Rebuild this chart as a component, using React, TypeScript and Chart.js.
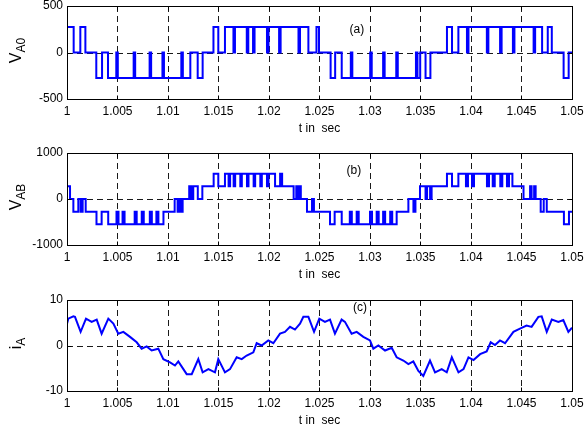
import React, { useEffect, useRef } from "react";
import { Chart, registerables } from "chart.js";

Chart.register(...registerables);

const FONT = "'Liberation Sans', Arial, Helvetica, sans-serif";

type Pair = [number, number];

// x axis (seconds)
const xTicks = [1, 1.005, 1.01, 1.015, 1.02, 1.025, 1.03, 1.035, 1.04, 1.045, 1.05];
const xTickLabels = ["1", "1.005", "1.01", "1.015", "1.02", "1.025", "1.03", "1.035", "1.04", "1.045", "1.05"];
const xTitle = "t in  sec";
const tStart = 1.0;
const tEnd = 1.05;

// (a) pole voltage V_A0: [time offset in ms, volts held from that time]
const vA0Steps: Pair[] = [
  [0, 275], [0.66, 0], [1.32, 275], [1.82, 0], [2.9, -275], [3.47, 0], [4.06, -275],
  [4.88, 0], [5.03, -275], [6.6, 0], [6.75, -275], [8.18, 0], [8.33, -275],
  [9.45, 0], [9.6, -275], [11.32, 0], [11.47, -275], [12.21, 0], [12.94, -275],
  [13.43, 0], [14.5, 275], [14.98, 0], [15.64, 275], [16.48, 0], [16.63, 275],
  [17.8, 0], [17.95, 275], [18.42, 0], [18.57, 275], [19.8, 0], [19.95, 275],
  [21.0, 0], [21.15, 275], [22.92, 0], [23.07, 275], [23.9, 0], [24.7, 275],
  [24.95, 0], [26.1, -275], [26.55, 0], [27.2, -275], [28.1, 0], [28.25, -275],
  [30.02, 0], [30.17, -275], [31.3, 0], [31.45, -275], [32.6, 0], [32.75, -275],
  [34.55, 0], [34.7, -275], [34.97, 0], [35.5, -275], [35.98, 0], [37.62, 275],
  [38.12, 0], [38.75, 275], [39.6, 0], [39.75, 275], [41.57, 0], [41.72, 275],
  [42.88, 0], [43.03, 275], [44.15, 0], [44.3, 275], [46.2, 0], [46.35, 275],
  [47.04, 0], [47.6, 275], [48.0, 0], [49.17, -275], [49.67, 0],
];

// (b) line voltage V_AB: [time offset in ms, volts held from that time]
const vABSteps: Pair[] = [
  [0, 275], [0.3, 0], [0.63, -275], [1.12, 0], [1.35, -275], [1.55, 0], [1.85, -275],
  [2.92, -550], [3.43, -275], [4.08, -550],
  [4.9, -275], [5.1, -550], [5.5, -275], [5.7, -550], [6.7, -275], [6.9, -550],
  [7.4, -275], [7.6, -550], [8.2, -275], [8.4, -550], [8.85, -275], [9.05, -550],
  [9.55, -275], [10.66, 0], [10.95, -275], [11.1, 0], [11.3, -275], [11.45, 0],
  [12.1, 275], [12.3, 0], [12.5, 275], [12.95, 0], [13.4, 275],
  [14.52, 550], [14.98, 275], [15.64, 550],
  [16.0, 275], [16.15, 550], [16.5, 275], [16.65, 550], [17.16, 275], [17.31, 550],
  [17.82, 275], [17.97, 550], [18.48, 275], [18.63, 550], [19.14, 275], [19.29, 550],
  [19.8, 275], [19.95, 550], [20.6, 275], [21.1, 550], [21.3, 275],
  [22.44, 0], [22.7, 275], [22.85, 0], [23.0, 275], [23.15, 0], [23.76, -275],
  [24.26, 0], [24.45, -275], [26.04, -550], [26.5, -275], [27.2, -550],
  [28.0, -275], [28.2, -550], [28.68, -275], [28.88, -550], [30.0, -275], [30.2, -550],
  [30.66, -275], [30.86, -550], [31.3, -275], [31.5, -550], [32.0, -275], [32.2, -550],
  [32.64, -275], [33.8, 0], [34.3, -275], [34.5, 0], [34.95, 275], [35.5, 0],
  [35.65, 275], [35.95, 0], [36.1, 275], [37.62, 550], [38.12, 275], [38.75, 550],
  [39.5, 275], [39.7, 550], [40.1, 275], [40.3, 550], [41.58, 275], [41.78, 550],
  [42.15, 275], [42.35, 550], [42.9, 275], [43.1, 550], [43.56, 275], [43.76, 550],
  [44.1, 275], [45.2, 0], [45.85, 275], [46.0, 0], [46.25, 275], [46.4, 0],
  [46.9, -275], [47.2, 0], [47.5, -275], [49.2, -550], [49.7, -275],
];

// (c) phase current i_A: [time offset in ms, amperes]
const iASamples: Pair[] = [
  [0, 4.8], [0.13, 5.9], [0.63, 6.4], [0.79, 6.3], [1.35, 3.0], [1.88, 5.9], [2.44, 5.2],
  [2.94, 5.7], [3.43, 2.6], [4.09, 5.9], [4.59, 4.8], [5.08, 2.6], [5.58, 3.0], [6.24, 1.9],
  [6.9, 0.7], [7.39, -0.7], [7.89, -0.2], [8.38, -1.1], [9.04, -0.7], [9.54, -3.0],
  [10.2, -3.7], [10.69, -4.4], [11.02, -3.5], [11.85, -6.3], [12.35, -6.3], [13.0, -3.0],
  [13.43, -5.9], [14.0, -5.2], [14.65, -5.9], [14.98, -3.0], [15.64, -5.9], [16.14, -5.2],
  [16.8, -2.6], [17.3, -3.0], [17.79, -2.2], [18.45, -1.5], [18.78, 0.5], [19.27, 0],
  [19.93, 1.1], [20.43, 0.5], [21.09, 2.6], [21.58, 3.0], [22.08, 4.1], [22.57, 3.5],
  [23.07, 4.8], [23.4, 6.3], [23.9, 6.3], [24.46, 3.0], [24.98, 5.9], [25.54, 5.2],
  [26.04, 5.7], [26.53, 2.6], [27.19, 5.7], [27.52, 5.2], [28.18, 2.6], [28.68, 3.0],
  [29.34, 1.9], [30.0, 1.1], [30.33, -0.7], [30.83, 0], [31.49, -1.1], [32.15, -0.5],
  [32.64, -2.6], [33.3, -3.3], [33.8, -4.1], [34.29, -3.5], [34.79, -5.6], [35.28, -6.7],
  [35.94, -3.3], [36.44, -5.9], [37.1, -5.2], [37.6, -5.9], [38.1, -2.6], [38.76, -5.9],
  [39.26, -5.2], [39.75, -2.6], [40.25, -3.2], [40.9, -1.9], [41.55, -1.3], [41.95, 0.7],
  [42.38, 0.1], [42.87, 1.1], [43.37, 0.5], [44.2, 3.0], [44.85, 3.7], [45.5, 4.4],
  [46.0, 4.1], [46.67, 6.3], [47.0, 6.4], [47.5, 3.0], [48.0, 5.7], [48.65, 5.2],
  [49.14, 5.6], [49.64, 3.0], [50.0, 3.9],
];

// y axes
const vA0Ticks = [-500, 0, 500];
const vA0TickLabels = ["-500", "0", "500"];
const vABTicks = [-1000, 0, 1000];
const vABTickLabels = ["-1000", "0", "1000"];
const iATicks = [-10, 0, 10];
const iATickLabels = ["-10", "0", "10"];

const toSec = (ms: number) => tStart + ms / 1000;

function stepPoints(steps: Pair[]) {
  const pts: { x: number; y: number }[] = [];
  steps.forEach(([t, v], i) => {
    const tNext = i + 1 < steps.length ? toSec(steps[i + 1][0]) : tEnd;
    pts.push({ x: toSec(t), y: v });
    pts.push({ x: tNext, y: v });
  });
  return pts;
}

function samplePoints(samples: Pair[]) {
  return samples.map(([t, v]) => ({ x: toSec(t), y: v }));
}

interface PanelSpec {
  id: string;
  canvasTop: number;
  canvasHeight: number;
  padTop: number;
  xAxisHeight: number;
  yTicks: number[];
  yTickLabels: string[];
  yMain: string;
  ySub: string;
  tag: string;
  tagX: number;
  tagY: number;
  points: { x: number; y: number }[];
}

const panels: PanelSpec[] = [
  {
    id: "a", canvasTop: 0, canvasHeight: 145, padTop: 6, xAxisHeight: 46,
    yTicks: vA0Ticks, yTickLabels: vA0TickLabels, yMain: "V", ySub: "A0",
    tag: "(a)", tagX: 1.0287, tagY: 240, points: stepPoints(vA0Steps),
  },
  {
    id: "b", canvasTop: 145, canvasHeight: 145, padTop: 8, xAxisHeight: 45,
    yTicks: vABTicks, yTickLabels: vABTickLabels, yMain: "V", ySub: "AB",
    tag: "(b)", tagX: 1.0284, tagY: 609, points: stepPoints(vABSteps),
  },
  {
    id: "c", canvasTop: 290, canvasHeight: 146, padTop: 10, xAxisHeight: 45,
    yTicks: iATicks, yTickLabels: iATickLabels, yMain: "i", ySub: "A",
    tag: "(c)", tagX: 1.029, tagY: 8.4, points: samplePoints(iASamples),
  },
];

function makeFrame(spec: PanelSpec) {
  return {
    id: "frame" + spec.id,
    beforeDatasetsDraw(chart: any) {
      const { ctx, chartArea: a, scales } = chart;
      const xs = scales.x;
      const ys = scales.y;
      ctx.save();
      ctx.strokeStyle = "#1a1a1a";
      ctx.lineWidth = 1;
      ctx.setLineDash([6, 4]);
      xTicks.slice(1, -1).forEach((v) => {
        const px = Math.round(xs.getPixelForValue(v)) + 0.5;
        ctx.beginPath();
        ctx.moveTo(px, a.top);
        ctx.lineTo(px, a.bottom);
        ctx.stroke();
      });
      spec.yTicks.slice(1, -1).forEach((v) => {
        const py = Math.round(ys.getPixelForValue(v)) + 0.5;
        ctx.beginPath();
        ctx.moveTo(a.left, py);
        ctx.lineTo(a.right, py);
        ctx.stroke();
      });
      ctx.restore();
    },
    afterDatasetsDraw(chart: any) {
      const { ctx, chartArea: a, scales } = chart;
      const xs = scales.x;
      const ys = scales.y;
      const L = Math.round(a.left) + 0.5;
      const R = Math.round(a.right) + 0.5;
      const T = Math.round(a.top) + 0.5;
      const B = Math.round(a.bottom) + 0.5;
      ctx.save();
      ctx.setLineDash([]);
      ctx.strokeStyle = "#000";
      ctx.lineWidth = 1;
      ctx.strokeRect(L, T, R - L, B - T);
      const tl = 4;
      ctx.beginPath();
      xTicks.forEach((v) => {
        const px = Math.round(xs.getPixelForValue(v)) + 0.5;
        ctx.moveTo(px, B);
        ctx.lineTo(px, B - tl);
        ctx.moveTo(px, T);
        ctx.lineTo(px, T + tl);
      });
      spec.yTicks.forEach((v) => {
        const py = Math.round(ys.getPixelForValue(v)) + 0.5;
        ctx.moveTo(L, py);
        ctx.lineTo(L + tl, py);
        ctx.moveTo(R, py);
        ctx.lineTo(R - tl, py);
      });
      ctx.stroke();

      ctx.fillStyle = "#000";
      ctx.font = `12px ${FONT}`;
      ctx.textAlign = "center";
      ctx.textBaseline = "middle";
      ctx.fillText(spec.tag, xs.getPixelForValue(spec.tagX), ys.getPixelForValue(spec.tagY));
      ctx.fillText(xTitle, (a.left + a.right) / 2, a.bottom + 30);

      // rotated y label with subscript
      ctx.translate(21, (a.top + a.bottom) / 2 - 2);
      ctx.rotate(-Math.PI / 2);
      ctx.textAlign = "left";
      ctx.textBaseline = "alphabetic";
      const mainFont = `16px ${FONT}`;
      const subFont = `12px ${FONT}`;
      ctx.font = mainFont;
      const wm = ctx.measureText(spec.yMain).width;
      ctx.font = subFont;
      const ws = ctx.measureText(spec.ySub).width;
      const start = -(wm + ws) / 2;
      ctx.font = mainFont;
      ctx.fillText(spec.yMain, start, 0);
      ctx.font = subFont;
      ctx.fillText(spec.ySub, start + wm, 4);
      ctx.restore();
    },
  };
}

function Panel({ spec }: { spec: PanelSpec }) {
  const ref = useRef<HTMLCanvasElement>(null);
  useEffect(() => {
    if (!ref.current) return;
    const tickFont = { family: FONT, size: 12 };
    const chart = new Chart(ref.current, {
      type: "line",
      data: {
        datasets: [
          {
            data: spec.points,
            borderColor: "#0000ff",
            backgroundColor: "#0000ff",
            borderWidth: 2,
            pointRadius: 0,
            fill: false,
            tension: 0,
            borderJoinStyle: "miter",
            borderCapStyle: "butt",
          } as any,
        ],
      },
      options: {
        animation: false,
        responsive: false,
        maintainAspectRatio: false,
        events: [],
        layout: { padding: { top: spec.padTop, left: 0, right: 15, bottom: 0 } },
        plugins: { legend: { display: false }, tooltip: { enabled: false } },
        scales: {
          x: {
            type: "linear",
            min: tStart,
            max: tEnd,
            grid: { display: false, drawTicks: false },
            border: { display: false },
            ticks: {
              autoSkip: false,
              maxRotation: 0,
              minRotation: 0,
              padding: 5,
              color: "#000",
              font: tickFont,
              callback: (_v: any, i: number) => xTickLabels[i],
            },
            afterBuildTicks: (s: any) => {
              s.ticks = xTicks.map((v) => ({ value: v }));
            },
            afterFit: (s: any) => {
              s.height = spec.xAxisHeight;
              s.paddingLeft = 0;
              s.paddingRight = 0;
            },
          },
          y: {
            type: "linear",
            min: spec.yTicks[0],
            max: spec.yTicks[spec.yTicks.length - 1],
            grid: { display: false, drawTicks: false },
            border: { display: false },
            ticks: {
              padding: 4,
              color: "#000",
              font: tickFont,
              callback: (_v: any, i: number) => spec.yTickLabels[i],
            },
            afterBuildTicks: (s: any) => {
              s.ticks = spec.yTicks.map((v) => ({ value: v }));
            },
            afterFit: (s: any) => {
              s.width = 67;
              s.paddingTop = 0;
              s.paddingBottom = 0;
            },
          },
        },
      } as any,
      plugins: [makeFrame(spec)],
    });
    return () => chart.destroy();
  }, [spec]);
  return (
    <canvas
      ref={ref}
      width={587}
      height={spec.canvasHeight}
      style={{ position: "absolute", left: 0, top: spec.canvasTop, width: 587, height: spec.canvasHeight }}
    />
  );
}

export default function App() {
  return (
    <div style={{ position: "fixed", left: 0, top: 0, width: 587, height: 436, background: "#fff", overflow: "hidden" }}>
      {panels.map((p) => (
        <Panel key={p.id} spec={p} />
      ))}
    </div>
  );
}
